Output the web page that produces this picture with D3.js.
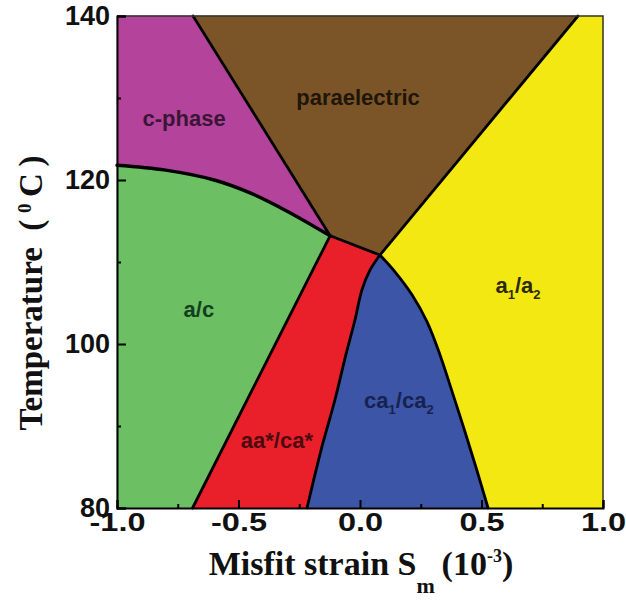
<!DOCTYPE html>
<html>
<head>
	<meta charset="utf-8">
	<script src="https://cdn.jsdelivr.net/npm/d3@7/dist/d3.min.js"></script>
	<style>
		html, body {
			padding: 0;
			margin: 0;
			background: #fff;
		}
	</style>
</head>
<body>
	<script>
		var width = 626, height = 604;

		// ~ ~ ~ DATA ~ ~ ~
		// axis ticks
		const xTicks = [-1.0, -0.5, 0.0, 0.5, 1.0];
		const xMinor = [-0.75, -0.25, 0.25, 0.75];
		const yTicks = [80, 100, 120, 140];
		const yMinor = [90, 110, 130];

		// phase boundaries, [misfit strain, temperature]
		const cAcBoundary = [[-1.0, 121.8], [-0.8, 121.2], [-0.6, 120.0], [-0.45, 118.4], [-0.3, 116.2], [-0.123, 113.2]];
		const cParaBoundary = [[-0.687, 140], [-0.123, 113.2]];
		const tripleLink = [[-0.123, 113.2], [0.082, 110.85]];
		const paraA1Boundary = [[0.082, 110.85], [0.897, 140]];
		const acAaBoundary = [[-0.123, 113.2], [-0.689, 80]];
		const aaCaBoundary = [[0.082, 110.85], [0.041, 109.0], [0.008, 106.6], [-0.021, 102.9], [-0.058, 98.7], [-0.103, 93.2], [-0.160, 87.1], [-0.218, 80]];
		const caA1Boundary = [[0.082, 110.85], [0.144, 108.8], [0.214, 106.0], [0.276, 102.7], [0.329, 98.7], [0.379, 94.2], [0.432, 89.3], [0.481, 84.6], [0.527, 80]];

		// phase labels and their baseline positions
		const phaseNames = ["c-phase", "paraelectric", "a/c", "a1/a2", "ca1/ca2", "aa*/ca*"];
		const phaseLabelPos = [[-0.724, 126.6], [-0.008, 129.1], [-0.663, 103.3], [0.650, 106.2], [0.160, 92.2], [-0.342, 87.3]];

		// ~ ~ ~ STYLE ~ ~ ~
		const PHASE_COLORS = {
			"c-phase": "#b4449b",
			"paraelectric": "#7b5528",
			"a/c": "#6cbf63",
			"a1/a2": "#f4e812",
			"ca1/ca2": "#3c55a6",
			"aa*/ca*": "#e91f2a"
		};
		const LABEL_COLORS = {
			"c-phase": "#3a1535",
			"paraelectric": "#1f1608",
			"a/c": "#12401c",
			"a1/a2": "#2b2a0a",
			"ca1/ca2": "#16224f",
			"aa*/ca*": "#4d0b10"
		};

		var plot = { left: 117, right: 603, top: 16, bottom: 508 };

		var svg = d3.select("body").append("svg")
			.attr("width", width)
			.attr("height", height);

		var x = d3.scaleLinear().domain([-1, 1]).range([plot.left, plot.right]);
		var y = d3.scaleLinear().domain([80, 140]).range([plot.bottom, plot.top]);

		var line = d3.line()
			.x(d => x(d[0]))
			.y(d => y(d[1]))
			.curve(d3.curveCatmullRom.alpha(0.5));

		var rev = a => a.slice().reverse();

		// join several edges into one closed region
		var regionPath = function(edges) {
			return edges.map((e, i) => {
				var s = line(e);
				return i === 0 ? s : "L" + s.slice(1);
			}).join("") + "Z";
		};

		var regions = [
			{ name: "c-phase", edges: [[[-1, 140], [-0.687, 140]], cParaBoundary, rev(cAcBoundary)] },
			{ name: "paraelectric", edges: [[[-0.687, 140], [0.897, 140]], rev(paraA1Boundary), rev(tripleLink), rev(cParaBoundary)] },
			{ name: "a1/a2", edges: [[[0.897, 140], [1, 140]], [[1, 140], [1, 80]], [[1, 80], [0.527, 80]], rev(caA1Boundary), paraA1Boundary] },
			{ name: "ca1/ca2", edges: [caA1Boundary, [[0.527, 80], [-0.218, 80]], rev(aaCaBoundary)] },
			{ name: "aa*/ca*", edges: [tripleLink, aaCaBoundary, [[-0.218, 80], [-0.689, 80]], rev(acAaBoundary)] },
			{ name: "a/c", edges: [cAcBoundary, acAaBoundary, [[-0.689, 80], [-1, 80]], [[-1, 80], [-1, 121.8]]] }
		];

		svg.append("g").selectAll("path")
			.data(regions)
			.enter().append("path")
			.attr("d", d => regionPath(d.edges))
			.attr("fill", d => PHASE_COLORS[d.name])
			.attr("stroke", d => PHASE_COLORS[d.name])
			.attr("stroke-width", 0.8);

		// boundary lines
		var boundaries = [cAcBoundary, cParaBoundary, tripleLink, paraA1Boundary, acAaBoundary, aaCaBoundary, caA1Boundary];
		svg.append("g").selectAll("path")
			.data(boundaries)
			.enter().append("path")
			.attr("d", line)
			.attr("fill", "none")
			.attr("stroke", "#000")
			.attr("stroke-width", (d, i) => i === 0 ? 3.4 : 2.8)
			.attr("stroke-linecap", "round")
			.attr("stroke-linejoin", "round");

		// phase labels
		var labels = svg.append("g")
			.attr("font-family", "'Liberation Sans', Arial, sans-serif")
			.attr("font-weight", "bold")
			.attr("font-size", 22)
			.attr("text-anchor", "middle");

		phaseNames.forEach(function(name, i) {
			var t = labels.append("text")
				.attr("x", x(phaseLabelPos[i][0]))
				.attr("y", y(phaseLabelPos[i][1]))
				.attr("fill", LABEL_COLORS[name]);
			// digits become subscripts
			var lastWasSub = false;
			name.split(/(\d)/).forEach(function(p) {
				if (p === "") return;
				var isSub = /\d/.test(p);
				var dy = isSub ? 6 : (lastWasSub ? -6 : 0);
				t.append("tspan")
					.attr("dy", dy)
					.attr("font-size", isSub ? 13 : null)
					.text(p);
				lastWasSub = isSub;
			});
		});

		// frame on top and right
		svg.append("path")
			.attr("d", "M" + plot.left + "," + plot.top + "H" + plot.right + "V" + plot.bottom)
			.attr("fill", "none")
			.attr("stroke", "#333")
			.attr("stroke-width", 1.5);

		// ~ ~ ~ AXES ~ ~ ~
		var tickFont = function(sel, size) {
			sel.selectAll(".tick text")
				.attr("font-family", "'Liberation Sans', Arial, sans-serif")
				.attr("font-weight", "bold")
				.attr("font-size", size)
				.attr("fill", "#111");
		};

		var xAxis = svg.append("g")
			.attr("transform", "translate(0," + plot.bottom + ")")
			.call(d3.axisBottom(x).tickValues(xTicks).tickSize(-8).tickPadding(5)
				.tickFormat(d => d.toFixed(1)));
		tickFont(xAxis, 25);
		xAxis.selectAll(".tick text").attr("transform", "scale(1.3,1)");

		var xMinorAxis = svg.append("g")
			.attr("transform", "translate(0," + plot.bottom + ")")
			.call(d3.axisBottom(x).tickValues(xMinor).tickSize(-4).tickFormat(""));

		var yAxis = svg.append("g")
			.attr("transform", "translate(" + plot.left + ",0)")
			.call(d3.axisLeft(y).tickValues(yTicks).tickSize(-9).tickPadding(7).tickFormat(d3.format("d")));
		tickFont(yAxis, 27);

		var yMinorAxis = svg.append("g")
			.attr("transform", "translate(" + plot.left + ",0)")
			.call(d3.axisLeft(y).tickValues(yMinor).tickSize(-4).tickFormat(""));

		xMinorAxis.select(".domain").remove();
		yMinorAxis.select(".domain").remove();
		svg.selectAll(".domain").attr("stroke", "#000").attr("stroke-width", 2);
		svg.selectAll(".tick line").attr("stroke", "#000").attr("stroke-width", 2);

		// axis titles
		var yTitle = svg.append("text")
			.attr("transform", "translate(42,293) rotate(-90)")
			.attr("text-anchor", "middle")
			.attr("font-family", "'Liberation Serif', 'Times New Roman', serif")
			.attr("font-weight", "bold")
			.attr("font-size", 33)
			.attr("fill", "#111");
		yTitle.append("tspan").text("Temperature\u2002(\u2009");
		yTitle.append("tspan").attr("dy", -11).attr("font-size", 19).text("0");
		yTitle.append("tspan").attr("dy", 11).text("\u2009C\u2009)");

		var xTitle = svg.append("text")
			.attr("x", 361)
			.attr("y", 575)
			.attr("text-anchor", "middle")
			.attr("font-family", "'Liberation Serif', 'Times New Roman', serif")
			.attr("font-weight", "bold")
			.attr("font-size", 34)
			.attr("fill", "#111");
		xTitle.append("tspan").text("Misfit strain S");
		xTitle.append("tspan").attr("dy", 18).attr("font-size", 22).text("m");
		xTitle.append("tspan").attr("dy", -18).text("\u2009(10");
		xTitle.append("tspan").attr("dy", -13).attr("font-size", 18).text("-3");
		xTitle.append("tspan").attr("dy", 13).text(")");
	</script>
</body>
</html>
